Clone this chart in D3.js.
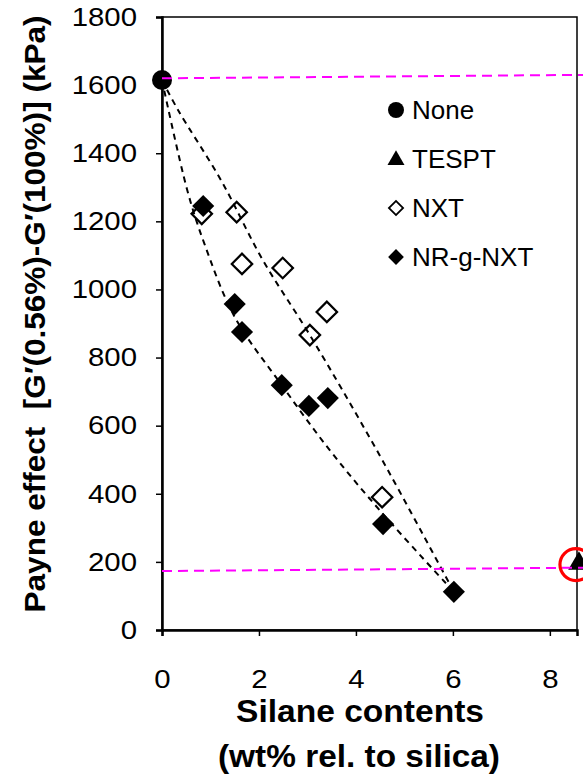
<!DOCTYPE html>
<html>
<head>
<meta charset="utf-8">
<script src="https://cdn.jsdelivr.net/npm/d3@7"></script>
<style>
  body { margin: 0; background: #fff; }
  text { font-family: "Liberation Sans", Arial, sans-serif; fill: #000; }
</style>
</head>
<body>
<div id="chart"></div>
<script>
// data
const noneX = [0], noneY = [1615];
const tesptX = [8.6], tesptY = [195];
const nxtX = [0.82, 1.54, 1.65, 2.49, 3.05, 3.40, 4.54];
const nxtY = [1222, 1227, 1075, 1063, 866, 934, 390];
const nrX = [0.85, 1.50, 1.65, 2.47, 3.03, 3.42, 4.56, 6.02];
const nrY = [1245, 957, 875, 719, 658, 681, 311, 112];
// hand-drawn dashed guide curves
const upperX = [0, 0.33, 1.22, 2.08, 3.05, 4.43, 6.02];
const upperY = [1615, 1527, 1320, 1086, 866, 528, 112];
const lowerX = [0, 0.52, 0.87, 1.5, 2.47, 3.46, 4.5, 6.02];
const lowerY = [1615, 1292, 1136, 919, 719, 528, 350, 112];
// horizontal reference lines (magenta)
const refTopY = [1620, 1630];
const refBotY = [173, 183];
const xTicks = [0, 2, 4, 6, 8];
const yTicks = [0, 200, 400, 600, 800, 1000, 1200, 1400, 1600, 1800];
const legendNames = ["None", "TESPT", "NXT", "NR-g-NXT"];

let width = 583, height = 781;

let svg = d3.select("#chart")
    .append("svg")
    .attr("width", width)
    .attr("height", height);

let x = d3.scaleLinear().domain([0, 8.56]).range([162, 577]);
let y = d3.scaleLinear().domain([0, 1800]).range([630, 17]);

// stretch a text horizontally (the source fonts are drawn a bit wide)
function stretch(sel, k) {
    sel.each(function () {
        let len = this.getComputedTextLength();
        d3.select(this)
            .attr("textLength", len * k)
            .attr("lengthAdjust", "spacingAndGlyphs");
    });
}

// frame
svg.append("rect")
    .attr("x", x(0)).attr("y", y(1800))
    .attr("width", x(8.56) - x(0)).attr("height", y(0) - y(1800))
    .style("fill", "none").style("stroke", "#000").style("stroke-width", 1.5);

// axes
let yAxis = svg.append("g")
    .attr("transform", "translate(" + x(0) + ",0)")
    .call(d3.axisLeft(y).tickValues(yTicks).tickSize(6).tickPadding(19).tickFormat(d3.format("d")));
let xAxis = svg.append("g")
    .attr("transform", "translate(0," + y(0) + ")")
    .call(d3.axisBottom(x).tickValues(xTicks).tickSize(6).tickPadding(34).tickFormat(d3.format("d")));

[yAxis, xAxis].forEach(function (a) {
    a.select(".domain").style("stroke", "#000").style("stroke-width", 2.5);
    a.selectAll(".tick line").style("stroke", "#000").style("stroke-width", 1.5);
    a.selectAll(".tick text")
        .style("font-family", "'Liberation Sans', Arial, sans-serif")
        .style("font-size", "26px")
        .style("fill", "#000")
        .call(stretch, 1.13);
});

// dashed guide curves
let guide = d3.line()
    .x(function (d) { return x(d[0]); })
    .y(function (d) { return y(d[1]); })
    .curve(d3.curveCatmullRom);

[[upperX, upperY], [lowerX, lowerY]].forEach(function (c) {
    svg.append("path")
        .datum(d3.zip(c[0], c[1]))
        .attr("d", guide)
        .style("fill", "none")
        .style("stroke", "#000")
        .style("stroke-width", 2)
        .style("stroke-dasharray", "6,5");
});

// NXT open diamonds
svg.selectAll(".nxt")
    .data(d3.zip(nxtX, nxtY))
    .enter()
    .append("path")
    .attr("class", "nxt")
    .attr("d", d3.symbol(d3.symbolSquare, 210))
    .attr("transform", function (d) { return "translate(" + x(d[0]) + "," + y(d[1]) + ") rotate(45)"; })
    .style("fill", "none")
    .style("stroke", "#000")
    .style("stroke-width", 2.2);

// NR-g-NXT filled diamonds
svg.selectAll(".nr")
    .data(d3.zip(nrX, nrY))
    .enter()
    .append("path")
    .attr("class", "nr")
    .attr("d", d3.symbol(d3.symbolSquare, 245))
    .attr("transform", function (d) { return "translate(" + x(d[0]) + "," + y(d[1]) + ") rotate(45)"; })
    .style("fill", "#000");

// None
svg.selectAll(".none")
    .data(d3.zip(noneX, noneY))
    .enter()
    .append("circle")
    .attr("cx", function (d) { return x(d[0]); })
    .attr("cy", function (d) { return y(d[1]); })
    .attr("r", 10)
    .style("fill", "#000");

// TESPT
svg.selectAll(".tespt")
    .data(d3.zip(tesptX, tesptY))
    .enter()
    .append("path")
    .attr("d", d3.symbol(d3.symbolTriangle, 200))
    .attr("transform", function (d) { return "translate(" + x(d[0]) + "," + y(d[1]) + ")"; })
    .style("fill", "#000");

// magenta reference lines
[refTopY, refBotY].forEach(function (r) {
    svg.append("line")
        .attr("x1", x(0)).attr("y1", y(r[0]))
        .attr("x2", width).attr("y2", y(r[1]))
        .style("stroke", "#ff00ff")
        .style("stroke-width", 2)
        .style("stroke-dasharray", "10,6");
});

// red highlight circle
svg.append("circle")
    .attr("cx", x(tesptX[0]) - 3)
    .attr("cy", y(tesptY[0]) + 1)
    .attr("r", 16)
    .style("fill", "none")
    .style("stroke", "#ff0000")
    .style("stroke-width", 3.2);

// legend
let legend = svg.append("g");
let legendY = d3.scalePoint().domain(legendNames).range([110, 257]);
legendNames.forEach(function (name, i) {
    let ly = legendY(name);
    if (i === 0) {
        legend.append("circle").attr("cx", 396).attr("cy", ly).attr("r", 8).style("fill", "#000");
    } else if (i === 1) {
        legend.append("path").attr("d", d3.symbol(d3.symbolTriangle, 125))
            .attr("transform", "translate(396," + (ly + 1) + ")").style("fill", "#000");
    } else if (i === 2) {
        legend.append("path").attr("d", d3.symbol(d3.symbolSquare, 100))
            .attr("transform", "translate(396," + ly + ") rotate(45)")
            .style("fill", "none").style("stroke", "#000").style("stroke-width", 1.8);
    } else {
        legend.append("path").attr("d", d3.symbol(d3.symbolSquare, 125))
            .attr("transform", "translate(396," + ly + ") rotate(45)")
            .style("fill", "#000");
    }
    legend.append("text")
        .attr("x", 412).attr("y", ly)
        .attr("dy", "0.36em")
        .text(name)
        .style("font-size", "26px");
});

// axis titles
svg.append("text")
    .attr("x", 360).attr("y", 722)
    .attr("text-anchor", "middle")
    .text("Silane contents")
    .style("font-size", "31px").style("font-weight", 700)
    .attr("textLength", 248).attr("lengthAdjust", "spacingAndGlyphs");
svg.append("text")
    .attr("x", 359).attr("y", 767)
    .attr("text-anchor", "middle")
    .text("(wt% rel. to silica)")
    .style("font-size", "31px").style("font-weight", 700)
    .attr("textLength", 282).attr("lengthAdjust", "spacingAndGlyphs");
svg.append("text")
    .attr("transform", "translate(45,314) rotate(-90)")
    .attr("text-anchor", "middle")
    .text("Payne effect  [G\u2032(0.56%)-G\u2032(100%)] (kPa)")
    .style("font-size", "29px").style("font-weight", 700)
    .style("white-space", "pre")
    .attr("textLength", 597).attr("lengthAdjust", "spacingAndGlyphs");
</script>
</body>
</html>
